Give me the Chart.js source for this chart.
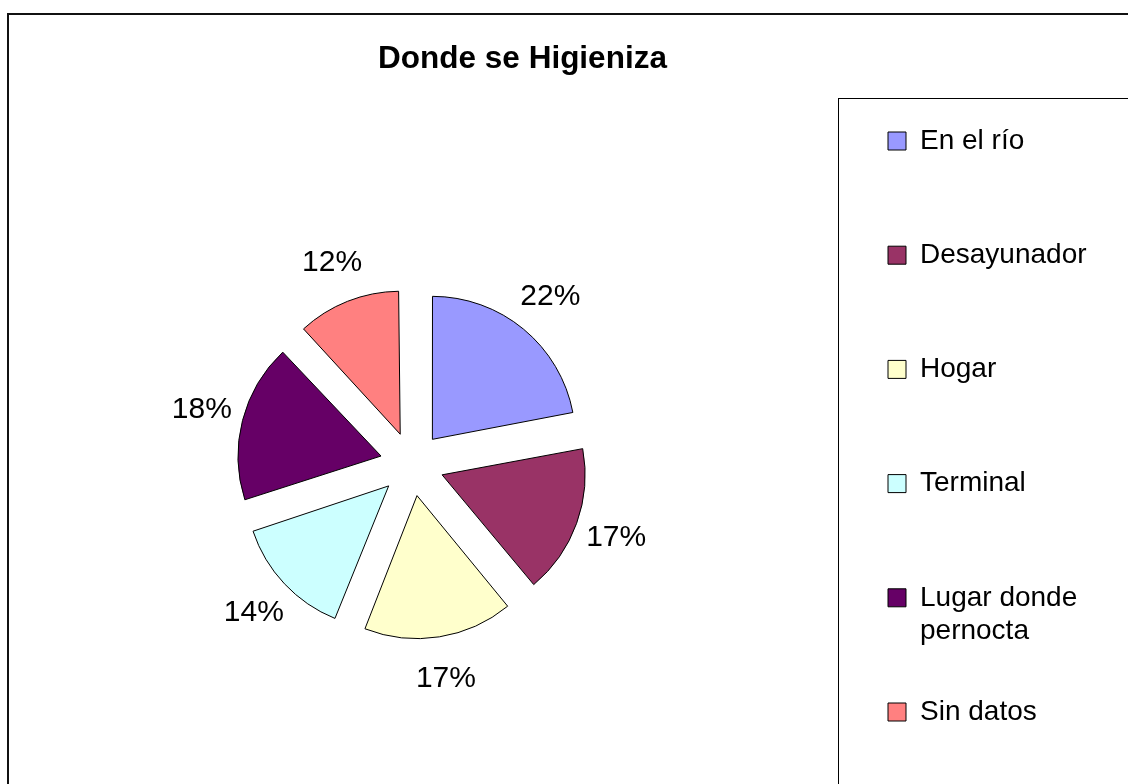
<!DOCTYPE html>
<html>
<head>
<meta charset="utf-8">
<script src="https://cdn.jsdelivr.net/npm/chart.js@4.4.1/dist/chart.umd.min.js"></script>
<style>
  html, body { margin: 0; padding: 0; background: #fff; overflow: hidden; }
  #wrap { position: relative; width: 1128px; height: 784px; overflow: hidden; }
  #pieChart { position: absolute; left: -17px; top: 0; }
</style>
</head>
<body>
<div id="wrap"><canvas id="pieChart" width="1145" height="848"></canvas></div>
<script>
const chartTitle = 'Donde se Higieniza';
const categories = ['En el río', 'Desayunador', 'Hogar', 'Terminal', 'Lugar donde pernocta', 'Sin datos'];
const percents = [22, 17, 17, 14, 18, 12];
const sliceColors = ['#9999FF', '#993366', '#FFFFCC', '#CCFFFF', '#660066', '#FF8080'];
const legendLines = [['En el río', ''], ['Desayunador', ''], ['Hogar', ''], ['Terminal', ''], ['Lugar donde', 'pernocta'], ['Sin datos', '']];

const FONT = "'Liberation Sans', Arial, sans-serif";
const SHIFT = 17;          // canvas starts 17px left of the page
const LEGEND_LEFT = 841 + SHIFT;
const LEGEND_PAD = 47;
const LEGEND_FONT = 28;
const BOX = 18;

const canvas = document.getElementById('pieChart');
const ctx = canvas.getContext('2d');

// legend width the same way Chart.js measures it, so the legend lands at LEGEND_LEFT
ctx.font = LEGEND_FONT + 'px ' + FONT;
let widest = 0;
legendLines.forEach(lines => lines.forEach(t => { widest = Math.max(widest, ctx.measureText(t).width); }));
const legendWidth = LEGEND_PAD + BOX + LEGEND_FONT / 2 + widest + 10;
const padRight = canvas.width - LEGEND_LEFT - legendWidth;

// frames and title
const frames = {
    id: 'frames',
    beforeDraw(chart) {
        const c = chart.ctx;
        c.save();
        c.fillStyle = '#fff';
        c.fillRect(0, 0, chart.width, chart.height);
        c.translate(SHIFT, 0);
        c.strokeStyle = '#111';
        c.lineWidth = 2;
        c.strokeRect(8, 14, 1400, 1000);
        c.lineWidth = 1;
        c.strokeStyle = '#000';
        c.strokeRect(838.5, 98.5, 600, 900);
        c.font = 'bold 31.5px ' + FONT;
        c.fillStyle = '#000';
        c.textAlign = 'center';
        c.textBaseline = 'middle';
        c.fillText(chartTitle, 522.5, 59);
        c.restore();
    }
};

// the arc element grows narrow slices when offset is used, undo that
const arcRadiusFix = {
    id: 'arcRadiusFix',
    afterDatasetsUpdate(chart) {
        chart.getDatasetMeta(0).data.forEach(arc => {
            const shift = (arc.options.offset || 0) / 4;
            const fix = 1 - Math.sin(Math.min(Math.PI, arc.circumference));
            arc.outerRadius -= shift * fix;
        });
    }
};

// percentage labels outside the slices
const percentLabels = {
    id: 'percentLabels',
    afterDatasetsDraw(chart) {
        const c = chart.ctx;
        c.save();
        c.font = '30px ' + FONT;
        c.fillStyle = '#000';
        c.textAlign = 'center';
        c.textBaseline = 'middle';
        chart.getDatasetMeta(0).data.forEach((arc, i) => {
            const p = arc.getProps(['x', 'y', 'startAngle', 'endAngle'], true);
            const mid = (p.startAngle + p.endAngle) / 2;
            const r = 217;
            c.fillText(percents[i] + '%', p.x + Math.cos(mid) * r, p.y + Math.sin(mid) * r);
        });
        c.restore();
    }
};

new Chart(ctx, {
    type: 'pie',
    data: {
        labels: categories,
        datasets: [{
            data: percents,
            backgroundColor: sliceColors,
            borderColor: '#000',
            borderWidth: 1,
            offset: 128,
            radius: 143
        }]
    },
    options: {
        responsive: false,
        animation: false,
        events: [],
        layout: {
            padding: { left: 0, right: padRight, top: 80, bottom: 0 }
        },
        plugins: {
            legend: {
                position: 'right',
                align: 'start',
                fullSize: false,
                labels: {
                    color: '#000',
                    font: { family: FONT, size: LEGEND_FONT },
                    boxWidth: BOX,
                    boxHeight: BOX,
                    padding: LEGEND_PAD,
                    generateLabels(chart) {
                        const items = Chart.overrides.pie.plugins.legend.labels.generateLabels(chart);
                        items.forEach((item, i) => {
                            item.text = legendLines[i];
                            item.strokeStyle = '#000';
                            item.lineWidth = 1;
                        });
                        return items;
                    }
                }
            },
            tooltip: { enabled: false }
        }
    },
    plugins: [frames, arcRadiusFix, percentLabels]
});
</script>
</body>
</html>
